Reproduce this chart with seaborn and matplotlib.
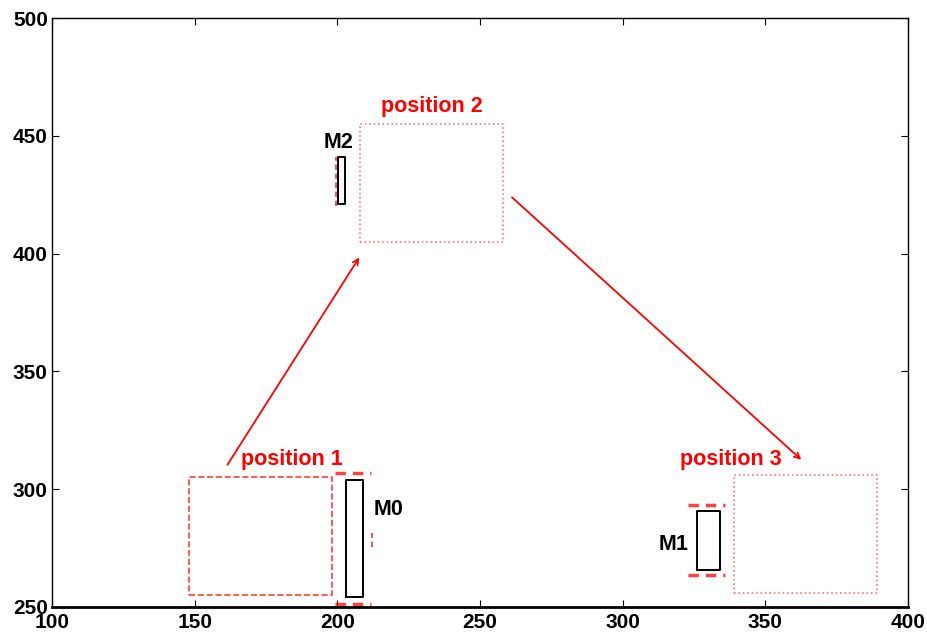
import matplotlib
matplotlib.use("Agg")
import matplotlib.pyplot as plt
import seaborn as sns
import numpy as np

# ---- data ----
pos_labels = ["position 1", "position 2", "position 3"]
pos_x = [148, 208, 339]        # lower-left x of each position box
pos_y = [255, 405, 256]        # lower-left y
pos_w = [50, 50, 50]
pos_h = [50, 50, 50]
pos_styles = ["--", ":", ":"]
pos_label_xy = [(184, 312.5), (233, 462.5), (338, 312.5)]

m_labels = ["M0", "M1", "M2"]
m_x = [203, 326, 200.4]
m_y = [254.3, 265.8, 421]
m_w = [6, 8, 2.4]
m_h = [49.7, 25, 20]
m_label_xy = [(218, 291.5), (318, 276.5), (200.5, 447)]

# red dashed marker segments around the M rectangles (x0, x1, y0, y1)
seg_x0 = [199.3, 199.3, 212.0, 323.0, 323.0, 199.7]
seg_x1 = [211.9, 211.9, 212.0, 336.0, 336.0, 199.7]
seg_y0 = [307.0, 251.3, 275.5, 293.4, 263.6, 420.0]
seg_y1 = [307.0, 251.3, 281.5, 293.4, 263.6, 441.0]

arrow_start_x = [161.5, 261.2]
arrow_start_y = [310.4, 423.9]
arrow_end_x = [207.7, 362.6]
arrow_end_y = [398.4, 312.5]

x_ticks = [100, 150, 200, 250, 300, 350, 400]
y_ticks = [250, 300, 350, 400, 450, 500]

sns.set_style("white")
plt.rcParams["font.family"] = ["Liberation Sans", "DejaVu Sans"]
plt.rcParams["font.weight"] = "bold"

fig = plt.figure(figsize=(9.27, 6.34), dpi=100)
ax = fig.add_axes([52 / 927, 1 - 607 / 634, (908 - 52) / 927, (607 - 18) / 634])


def rect_xy(x0, y0, w, h):
    return [x0, x0 + w, x0 + w, x0, x0], [y0, y0, y0 + h, y0 + h, y0]


for i in range(len(pos_x)):
    xs, ys = rect_xy(pos_x[i], pos_y[i], pos_w[i], pos_h[i])
    sns.lineplot(x=xs, y=ys, sort=False, estimator=None, ax=ax,
                 color="red", alpha=0.75 if pos_styles[i] == "--" else 0.55,
                 linestyle=pos_styles[i], linewidth=1.2)
    ax.text(pos_label_xy[i][0], pos_label_xy[i][1], pos_labels[i], color="red",
            fontsize=15.5, fontweight="bold", ha="center", va="center")

for i in range(len(seg_x0)):
    sns.lineplot(x=[seg_x0[i], seg_x1[i]], y=[seg_y0[i], seg_y1[i]], sort=False,
                 estimator=None, ax=ax, color="red", alpha=0.75,
                 linestyle=(0, (3, 2)), linewidth=2.5 if seg_x0[i] != seg_x1[i] else 1.3)

for i in range(len(m_x)):
    xs, ys = rect_xy(m_x[i], m_y[i], m_w[i], m_h[i])
    sns.lineplot(x=xs, y=ys, sort=False, estimator=None, ax=ax,
                 color="black", linewidth=1.4)
    ax.text(m_label_xy[i][0], m_label_xy[i][1], m_labels[i], color="black",
            fontsize=15.5, fontweight="bold", ha="center", va="center")

for i in range(len(arrow_start_x)):
    ax.annotate("", xy=(arrow_end_x[i], arrow_end_y[i]),
                xytext=(arrow_start_x[i], arrow_start_y[i]),
                arrowprops=dict(arrowstyle="->", color="red", lw=1.3,
                                shrinkA=0, shrinkB=0, mutation_scale=10))

ax.set_xlim(100, 400)
ax.set_ylim(250, 500)
ax.set_xticks(x_ticks)
ax.set_yticks(y_ticks)
ax.set_xticklabels([str(t) for t in x_ticks], fontsize=15, fontweight="bold")
ax.set_yticklabels([str(t) for t in y_ticks], fontsize=15, fontweight="bold")
ax.tick_params(direction="in", length=5, width=0.8, top=True, right=True,
               bottom=True, left=True, pad=3, colors="black")
ax.tick_params(axis="x", pad=4)
for s in ax.spines.values():
    s.set_visible(True)
    s.set_color("black")
    s.set_linewidth(1.0)
ax.spines["bottom"].set_linewidth(2.0)

fig.savefig("out.png", dpi=100)
